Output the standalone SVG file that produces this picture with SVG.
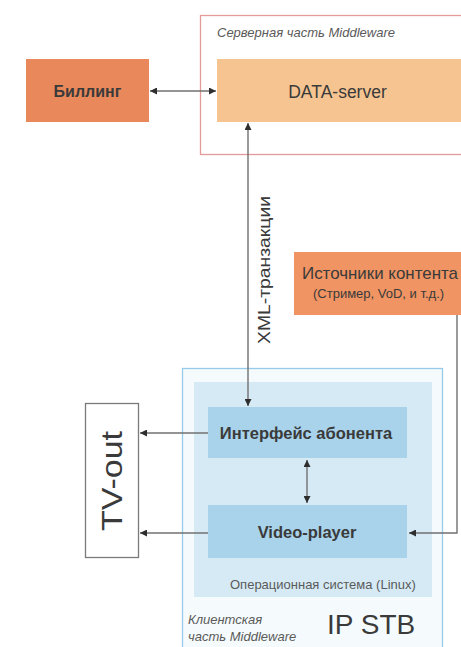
<svg xmlns="http://www.w3.org/2000/svg" width="461" height="647" viewBox="0 0 461 647">
<defs>
<style>
.t{font-family:"Liberation Sans",Arial,sans-serif;fill:#3a3a3a}
.b{font-weight:bold}
.s{font-family:"Liberation Sans",Arial,sans-serif;fill:#5a5a5a;font-size:13px}
.i{font-style:italic}
.c{stroke:#707070;stroke-width:1.4;fill:none}
</style>
<marker id="ah" viewBox="0 0 10 10" refX="10" refY="5" markerWidth="8" markerHeight="7" markerUnits="userSpaceOnUse" orient="auto-start-reverse">
<path d="M0,0 L10,5 L0,10 z" fill="#2e2e2e"/>
</marker>
</defs>
<rect width="461" height="647" fill="#ffffff"/>

<g id="server-part">
<rect x="200.5" y="15.5" width="275" height="139" fill="#ffffff" stroke="#e39a98" stroke-width="1.3"/>
<text class="s i" x="217" y="37">Серверная часть Middleware</text>
</g>

<g id="data-server">
<rect x="217" y="59" width="260" height="63" fill="#f6c491"/>
<text class="t" x="337.5" y="98" font-size="17.5" text-anchor="middle">DATA-server</text>
</g>

<g id="billing">
<rect x="26" y="59" width="123" height="63" fill="#e9895b"/>
<text class="t b" x="87.5" y="97" font-size="16" text-anchor="middle">Биллинг</text>
</g>

<g id="content-sources">
<rect x="294" y="252" width="180" height="63" fill="#ef9462"/>
<text class="t" x="302" y="279" font-size="17" textLength="156" lengthAdjust="spacingAndGlyphs">Источники контента</text>
<text class="t" x="313" y="298" font-size="13">(Стример, VoD, и т.д.)</text>
</g>

<g id="ip-stb">
<rect x="182.5" y="368.5" width="260" height="295" fill="#f5fafd" stroke="#96cce8" stroke-width="1.3"/>
<text class="s i" x="188" y="624" font-size="12.5">Клиентская</text>
<text class="s i" x="188" y="641" font-size="12.5">часть Middleware</text>
<text class="t" x="327" y="634" font-size="28">IP STB</text>
</g>

<g id="os">
<rect x="194" y="382" width="238" height="215" fill="#d6eaf5"/>
<text class="s" x="230" y="589">Операционная система (Linux)</text>
</g>

<g id="subscriber-interface">
<rect x="208" y="407" width="199" height="51" fill="#a8d3eb"/>
<text class="t b" x="306" y="439" font-size="16.5" text-anchor="middle">Интерфейс абонента</text>
</g>

<g id="video-player">
<rect x="208" y="505" width="199" height="53" fill="#a8d3eb"/>
<text class="t b" x="307" y="538" font-size="16.5" text-anchor="middle">Video-player</text>
</g>

<g id="tv-out">
<rect x="85.5" y="403.5" width="53" height="154" fill="#ffffff" stroke="#7a7a7a" stroke-width="1.3"/>
<text class="t" transform="translate(122,481) rotate(-90)" font-size="30" text-anchor="middle" textLength="100" lengthAdjust="spacingAndGlyphs">TV-out</text>
</g>

<g id="connectors">
<line class="c" x1="150" y1="91" x2="216" y2="91" marker-start="url(#ah)" marker-end="url(#ah)"/>
<line class="c" x1="248" y1="123" x2="248" y2="406" marker-start="url(#ah)" marker-end="url(#ah)"/>
<text class="t" transform="translate(270,270) rotate(-90)" font-size="17" text-anchor="middle" textLength="148" lengthAdjust="spacingAndGlyphs">XML-транзакции</text>
<line class="c" x1="307" y1="460" x2="307" y2="503" marker-start="url(#ah)" marker-end="url(#ah)"/>
<line class="c" x1="208" y1="433" x2="140" y2="433" marker-end="url(#ah)"/>
<line class="c" x1="208" y1="533" x2="140" y2="533" marker-end="url(#ah)"/>
<path class="c" d="M457,315 V533 H409" marker-end="url(#ah)"/>
</g>
</svg>
